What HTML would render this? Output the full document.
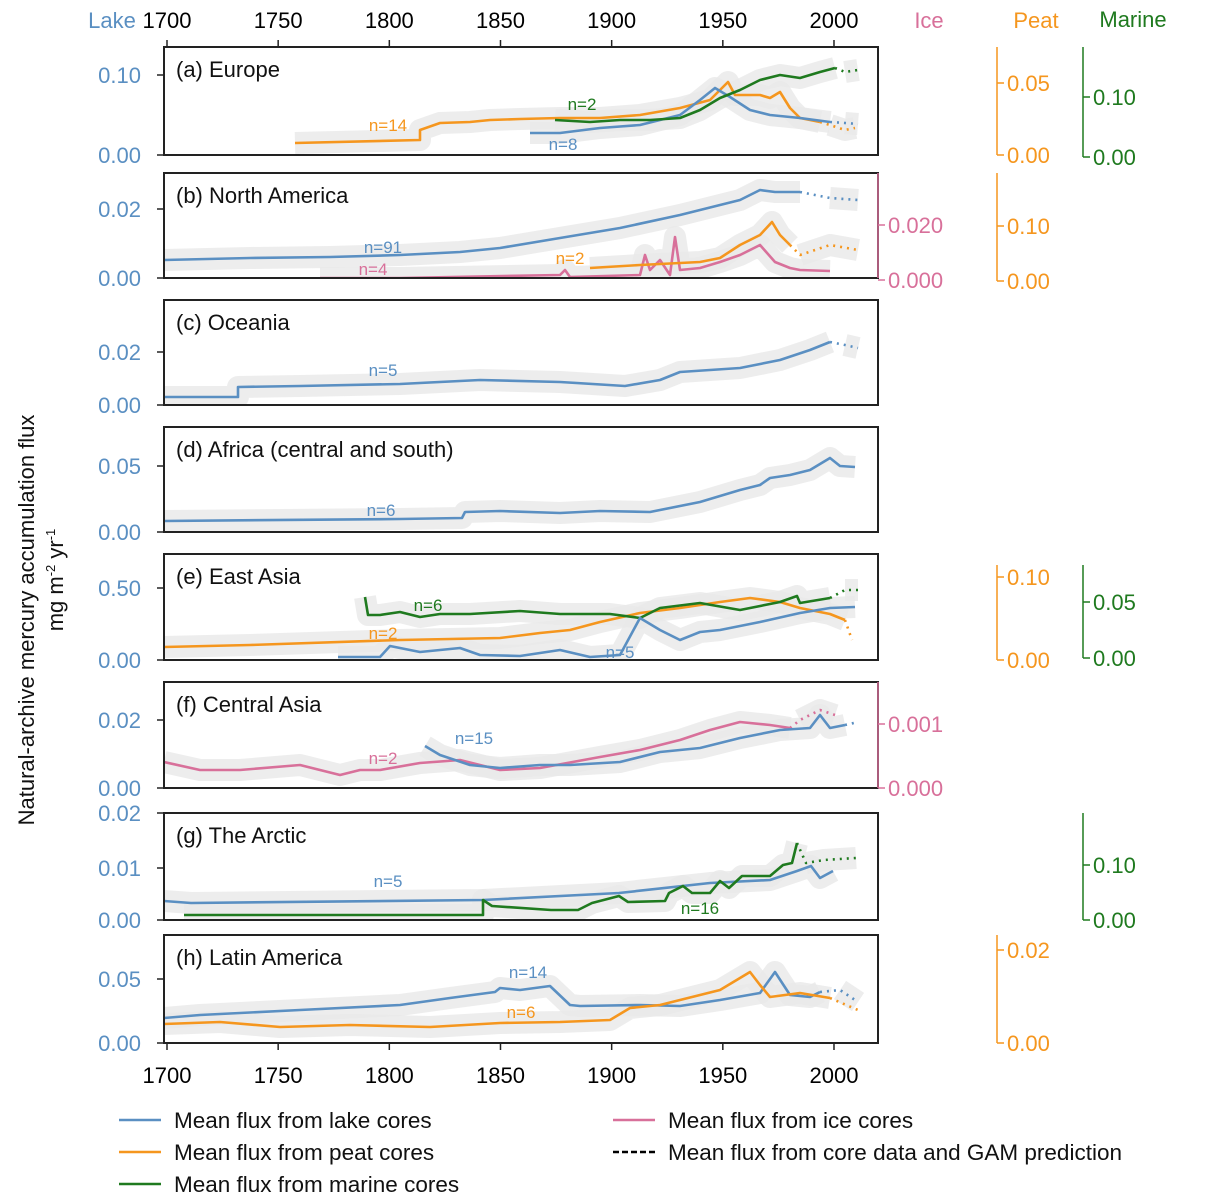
<!DOCTYPE html>
<html><head><meta charset="utf-8"><style>
html,body{margin:0;padding:0;background:#fff}
svg{display:block;font-family:"Liberation Sans",Arial,sans-serif}
</style></head><body>
<svg id="s" width="1213" height="1204" viewBox="0 0 1213 1204" xmlns="http://www.w3.org/2000/svg"></svg>
<script>
const B="#5a8fc2",O="#f5961e",G="#1f7a1f",P="#d8709a",K="#000";
let h="";
const s=document.getElementById("s");
function line(pts,c,w,dash,op){h+=`<polyline points="${pts.map(p=>p.join(",")).join(" ")}" fill="none" stroke="${c}" stroke-width="${w}" ${dash?`stroke-dasharray="${dash}"`:""} ${op?`stroke-opacity="${op}"`:""} stroke-linejoin="round"/>`;}
function txt(x,y,t,c,sz,anc,extra){h+=`<text x="${x}" y="${y}" fill="${c}" font-size="${sz}" text-anchor="${anc||"start"}" ${extra||""}>${t}</text>`;}
function ser(solid,dot,c){line(solid,"#e8e8e8",22,null,0.8);if(dot)line(dot,"#e8e8e8",22,null,0.8);}
function ser2(solid,dot,c){line(solid,c,2.6);if(dot)line([solid[solid.length-1]].concat(dot),c,2.6,"2,5");}
const panels=[[47,155],[173,278],[300,405],[427,532],[554,660],[682,788],[813,920],[935,1043]];
const data=[
 [[[295,143],[420,140],[420,130],[440,123],[470,122],[490,120],[520,119],[560,118],[600,118],[640,115],[680,108],[710,100],[728,82],[735,95],[760,95],[770,98],[780,92],[790,108],[800,118],[820,122]],[[830,125],[845,130],[855,128]],O],
 [[[530,133],[560,133],[600,128],[640,125],[680,115],[700,100],[715,88],[730,97],[750,110],[770,115],[800,118],[830,122]],[[845,123],[858,124]],B],
 [[[555,120],[590,122],[620,120],[650,120],[680,118],[700,110],[720,98],[740,90],[760,80],[780,75],[800,78],[820,72],[835,68]],[[845,72],[858,70]],G],
 [[[164,260],[250,258],[330,257],[400,255],[460,252],[500,248],[560,238],[620,228],[680,215],[740,200],[760,190],[775,192],[800,192]],[[830,198],[858,200]],B],
 [[[320,278],[400,278],[560,275],[565,270],[570,277],[640,275],[645,255],[650,270],[660,260],[670,275],[675,237],[680,270],[700,268],[720,262],[740,255],[760,245],[775,262],[790,268],[800,270],[830,271]],null,P],
 [[[590,268],[640,265],[700,262],[720,258],[740,245],[760,235],[772,222],[780,235],[790,245]],[[800,255],[830,245],[858,250]],O],
 [[[164,397],[238,397],[238,387],[300,386],[400,384],[480,380],[560,382],[625,386],[660,380],[680,372],[740,368],[780,360],[810,350],[830,342]],[[845,345],[858,348]],B],
 [[[164,521],[400,519],[462,518],[465,512],[500,511],[560,513],[600,511],[650,512],[700,502],[740,490],[760,485],[770,478],[790,475],[810,470],[830,458],[840,466],[855,467]],null,B],
 [[[164,647],[250,645],[400,640],[500,638],[540,633],[570,630],[600,622],[640,613],[680,608],[720,602],[750,598],[780,602],[800,608],[830,614],[845,620]],[[852,640]],O],
 [[[365,597],[368,615],[380,615],[400,612],[420,617],[440,614],[470,614],[520,611],[560,614],[610,614],[640,618],[660,608],[700,603],[740,610],[780,602],[797,596],[800,603],[830,598]],[[845,590],[858,590]],G],
 [[[338,657],[380,657],[390,646],[420,652],[460,648],[480,655],[520,656],[560,650],[590,657],[620,655],[640,618],[660,630],[680,640],[700,632],[720,630],[760,622],[800,613],[830,608],[855,607]],null,B],
 [[[164,762],[200,770],[240,770],[300,765],[340,775],[360,770],[380,770],[420,763],[460,760],[500,770],[540,768],[600,757],[640,750],[680,740],[710,730],[740,722],[770,725],[790,728]],[[800,720],[820,710],[835,715]],P],
 [[[425,746],[440,755],[470,765],[500,768],[540,765],[570,765],[620,762],[660,752],[700,748],[740,738],[780,730],[810,728],[820,715],[830,728],[845,725]],[[858,722]],B],
 [[[164,901],[191,903],[483,900],[619,893],[710,883],[770,880],[797,871],[811,866],[820,878],[833,871]],null,B],
 [[[184,915],[483,915],[483,900],[492,906],[551,910],[578,910],[592,903],[619,896],[628,902],[665,901],[669,893],[683,886],[692,893],[710,893],[720,881],[729,888],[742,876],[770,876],[783,865],[792,863],[797,843]],[[806,863],[824,860],[856,858]],G],
 [[[164,1018],[200,1015],[300,1010],[400,1005],[450,998],[495,992],[500,988],[520,990],[550,986],[570,1005],[580,1006],[640,1005],[680,1006],[720,1000],[760,993],[775,972],[790,995],[810,997],[820,992]],[[840,990],[858,1002]],B],
 [[[164,1024],[220,1022],[280,1027],[350,1025],[430,1027],[500,1023],[560,1022],[610,1020],[630,1008],[660,1005],[700,995],[720,990],[750,972],[760,985],[770,997],[800,993],[830,998]],[[858,1010]],O]
];
h+="<defs>";panels.forEach((p,i)=>{h+=`<clipPath id="c${i}"><rect x="164" y="${p[0]}" width="714" height="${p[1]-p[0]}"/></clipPath>`});h+="</defs>";
const pidx=[0,0,0,1,1,1,2,3,4,4,4,5,5,6,6,7,7];
panels.forEach((p,i)=>{h+=`<g clip-path="url(#c${i})">`;data.forEach((d,j)=>{if(pidx[j]==i)ser(d[0],d[1],d[2])});data.forEach((d,j)=>{if(pidx[j]==i)ser2(d[0],d[1],d[2])});h+="</g>";});
panels.forEach(p=>{h+=`<rect x="164" y="${p[0]}" width="714" height="${p[1]-p[0]}" fill="none" stroke="#222" stroke-width="2"/>`;});
const lt=[[[75,"0.10"],[155,"0.00"]],[[209,"0.02"],[278,"0.00"]],[[352,"0.02"],[405,"0.00"]],[[466,"0.05"],[532,"0.00"]],[[588,"0.50"],[660,"0.00"]],[[720,"0.02"],[788,"0.00"]],[[813,"0.02"],[868,"0.01"],[920,"0.00"]],[[979,"0.05"],[1043,"0.00"]]];
lt.forEach(a=>a.forEach(t=>{h+=`<line x1="157" x2="164" y1="${t[0]}" y2="${t[0]}" stroke="#222" stroke-width="1.5"/>`;txt(141,t[0]+8,t[1],B,22,"end");}));
const yrs=[1700,1750,1800,1850,1900,1950,2000];
yrs.forEach(y=>{const x=167+(y-1700)*2.2233;h+=`<line x1="${x}" x2="${x}" y1="1043" y2="1050" stroke="#222" stroke-width="1.5"/><line x1="${x}" x2="${x}" y1="40" y2="47" stroke="#222" stroke-width="1.5"/>`;txt(x,1083,y,K,22,"middle");txt(x,28,y,K,22,"middle");});
txt(112,28,"Lake",B,22,"middle");txt(929,28,"Ice",P,22,"middle");txt(1036,28,"Peat",O,22,"middle");txt(1133,27,"Marine",G,22,"middle");
function rax(x,y1,y2,c,ticks){h+=`<line x1="${x}" x2="${x}" y1="${y1}" y2="${y2}" stroke="${c}" stroke-width="1.5"/>`;ticks.forEach(t=>{h+=`<line x1="${x}" x2="${x+7}" y1="${t[0]}" y2="${t[0]}" stroke="${c}" stroke-width="1.5"/>`;txt(x+10,t[0]+8,t[1],c,22);});}
rax(997,47,155,O,[[83,"0.05"],[155,"0.00"]]);rax(1083,47,157,G,[[97,"0.10"],[157,"0.00"]]);
rax(878,173,278,P,[[225,"0.020"],[280,"0.000"]]);rax(997,173,281,O,[[226,"0.10"],[281,"0.00"]]);
rax(997,565,660,O,[[577,"0.10"],[660,"0.00"]]);rax(1083,565,658,G,[[602,"0.05"],[658,"0.00"]]);
rax(878,682,788,P,[[724,"0.001"],[788,"0.000"]]);
rax(1083,813,920,G,[[865,"0.10"],[920,"0.00"]]);
rax(997,935,1043,O,[[950,"0.02"],[1043,"0.00"]]);
const tt=["(a) Europe","(b) North America","(c) Oceania","(d) Africa (central and south)","(e) East Asia","(f) Central Asia","(g) The Arctic","(h) Latin America"];
panels.forEach((p,i)=>txt(176,p[0]+30,tt[i],"#111",22));
[[388,131,"n=14",O],[582,110,"n=2",G],[563,150,"n=8",B],[383,253,"n=91",B],[373,275,"n=4",P],[570,264,"n=2",O],[383,376,"n=5",B],[381,516,"n=6",B],[428,611,"n=6",G],[383,639,"n=2",O],[620,658,"n=5",B],[474,744,"n=15",B],[383,764,"n=2",P],[388,887,"n=5",B],[700,914,"n=16",G],[528,978,"n=14",B],[521,1018,"n=6",O]].forEach(a=>txt(a[0],a[1],a[2],a[3],17,"middle"));
h+=`<text transform="translate(34,620) rotate(-90)" font-size="22" text-anchor="middle" fill="#111">Natural-archive mercury accumulation flux</text>`;
h+=`<text transform="translate(63,580) rotate(-90)" font-size="22" text-anchor="middle" fill="#111">mg m<tspan font-size="13" dy="-8">-2</tspan><tspan dy="8"> yr</tspan><tspan font-size="13" dy="-8">-1</tspan></text>`;
function leg(x,y,c,t,d){h+=`<line x1="${x}" x2="${x+42}" y1="${y}" y2="${y}" stroke="${c}" stroke-width="2.6" ${d?'stroke-dasharray="6,3"':''}/>`;txt(x+55,y+8,t,"#111",22.5);}
leg(119,1120,B,"Mean flux from lake cores");leg(119,1152,O,"Mean flux from peat cores");leg(119,1184,G,"Mean flux from marine cores");
leg(613,1120,P,"Mean flux from ice cores");leg(613,1152,K,"Mean flux from core data and GAM prediction",1);
s.innerHTML=h;
</script>
</body></html>
